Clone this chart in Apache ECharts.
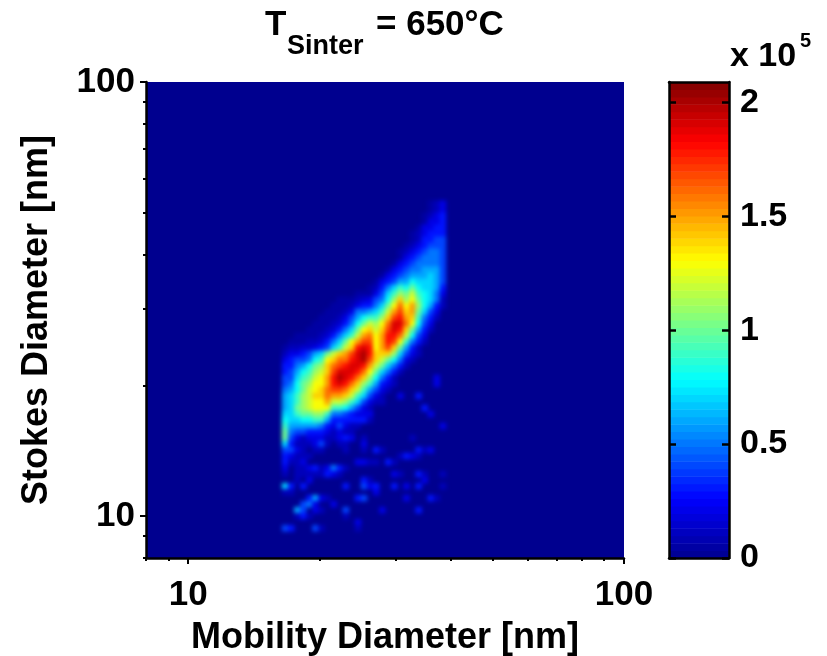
<!DOCTYPE html>
<html><head><meta charset="utf-8">
<style>html,body{margin:0;padding:0;background:#fff}#c{width:827px;height:656px;filter:blur(0.5px)}</style>
<script src="https://cdn.jsdelivr.net/npm/echarts@6/dist/echarts.min.js"></script>
</head><body><div id="c"></div>
<script>
const mobilityEdges=[16.40,16.93,17.49,18.06,18.65,19.25,19.88,20.53,21.20,21.89,22.60,23.34,24.10,24.88,25.69,26.53,27.40,28.29,29.21,30.16,31.14,32.16,33.21,34.29,35.41,36.56,37.75,38.98];
const stokesEdges=[9.23,9.53,9.84,10.16,10.49,10.83,11.18,11.54,11.91,12.30,12.70,13.11,13.54,13.98,14.43,14.90,15.38,15.88,16.39,16.92,17.47,18.04,18.62,19.23,19.85,20.49,21.16,21.84,22.55,23.28,24.04,24.82,25.62,26.45,27.31,28.19,29.11,30.05,31.02,32.03,33.07,34.14,35.25,36.39,37.57,38.79,40.04,41.34,42.68,44.06,45.49,46.97,48.49,50.06,51.68,53.36];
// counts in units of 10^4, rows from the largest Stokes diameter down
const density=[
[0,0,0,0,0,0,0,0,0,0,0,0,0,0,0,0,0,0,0,0,0,0,0,0,.5,1,2],
[0,0,0,0,0,0,0,0,0,0,0,0,0,0,0,0,0,0,0,0,0,0,0,0,.5,1,2],
[0,0,0,0,0,0,0,0,0,0,0,0,0,0,0,0,0,0,0,0,0,0,0,.5,1,2,3],
[0,0,0,0,0,0,0,0,0,0,0,0,0,0,0,0,0,0,0,0,0,0,0,.5,2,2,3],
[0,0,0,0,0,0,0,0,0,0,0,0,0,0,0,0,0,0,0,0,0,0,.5,2,2,3,3],
[0,0,0,0,0,0,0,0,0,0,0,0,0,0,0,0,0,0,0,0,0,.5,1,2,3,3,3],
[0,0,0,0,0,0,0,0,0,0,0,0,0,0,0,0,0,0,0,0,0,.5,1,3,3,4,4],
[0,0,0,0,0,0,0,0,0,0,0,0,0,0,0,0,0,0,0,0,.5,1,2,3,4,4,4],
[0,0,0,0,0,0,0,0,0,0,0,0,0,0,0,0,0,0,0,.5,1,2,3,4,5,5,4],
[0,0,0,0,0,0,0,0,0,0,0,0,0,0,0,0,0,0,0,.5,2,3,4,5,5,5,4],
[0,0,0,0,0,0,0,0,0,0,0,0,0,0,0,0,0,0,.5,2,3,4,5,5,5,5,4],
[0,0,0,0,0,0,0,0,0,0,0,0,0,0,0,0,0,.5,2,3,4,5,5,6,6,6,4],
[0,0,0,0,0,0,0,0,0,0,0,0,0,0,0,0,.5,2,3,4,5,6,6,6,7,6,4],
[0,0,0,0,0,0,0,0,0,0,0,0,0,0,0,.5,2,3,4,6,6,8,7,7,7,6,4],
[0,0,0,0,0,0,0,0,0,0,0,0,0,0,.5,1,3,5,7,9,8,10,8,7,7,6,3],
[0,0,0,0,0,0,0,0,0,0,0,0,.5,.5,.5,2,4,7,9,11,10,12,9,8,7,5,2],
[0,0,0,0,0,0,0,0,0,.5,.5,.5,1,1.5,2,4,5,8,11,14,11,13,10,8,7,5,1],
[0,0,0,0,0,0,0,0,.5,.5,.5,1,2,3,3,5,7,10,13,16,13,15,11,8,6,3,1],
[0,0,0,0,0,0,0,.5,.5,.5,1,2,5,5,6,7,9,12,15,17,14,15,10,7,4,2,0],
[0,0,0,0,0,0,.5,.5,.5,1,2,4,6,8,9,9,11,14,17,18,15,14,9,5,3,1,0],
[0,0,0,0,0,.5,.5,.5,1,1.5,3,5,8,10,12,11,13,16,19,19,16,13,8,4,2,0,0],
[0,0,0,0,.5,.5,.5,1,1.5,3,5,7,10,13,14,12,14,17,19,18,14,10,6,3,1,0,0],
[0,0,.5,.5,.5,.5,1,1.5,3,5,7,9,12,15,16,13,15,18,18,16,12,8,4,2,0,0,0],
[0,.5,.5,.5,1,1,1.5,3,5,7,10,13,15,17,17,13,15,18,17,13,9,5,3,1,0,0,0],
[.5,1,1,1.5,1.5,2,3,4,7,9,12,14,18,19,18,13,15,17,14,10,6,3,1,0,0,0,0],
[1,2,2,3,4,6,7,10,12,14,15,17,19,20,18,14,14,14,11,7,4,2,1,0,0,0,0],
[2,3,4,4,5,8,9,13,14,16,16,18,19,20,17,14,12,10,8,5,2,1,0,0,0,0,0],
[3,3,5,6,8,10,11,14,16,17,18,19,19,18,15,12,10,7,5,3,1,0,0,0,0,0,0],
[3,4,6,8,9,11,12,14,17,19,19,19,18,16,13,10,7,5,3,1,0,0,0,0,0,0,0],
[4,4,7,9,10,12,13,15,18,20,19,18,16,14,11,8,5,3,1,0,0,0,0,0,0,2,0],
[4,5,8,10,11,13,13,15,18,19,18,16,14,11,9,6,3,2,1,0,0,0,0,0,0,2,0],
[5,6,8,10,12,13,14,16,17,17,16,14,12,9,6,4,2,1,0,0,0,0,0,0,0,0,0],
[6,7,9,11,12,14,14,16,15,15,14,12,9,7,4,2,1,0,0,2,0,0,3,0,0,0,0],
[6,7,9,11,12,13,13,15,12,12,11,9,7,4,2,1,1,0,0,0,0,0,0,0,0,0,0],
[6,7,10,11,12,13,13,13,9,9,8,6,4,2,1,0,0,0,0,0,0,0,0,3,0,0,0],
[7,7,9,10,10,11,11,9,5,5,4,3,2,2,2,0,0,0,0,0,0,0,0,0,2,0,0],
[8,7,7,8,8,9,9,6,3,3,3,3,3,3,1,0,0,0,0,0,0,0,0,0,0,0,0],
[9,6,6,6,6,6,5,3,2,4,2,1,1,0,0,0,0,0,0,0,0,0,0,0,0,0,2],
[10,5,4,4,3,3,3,2,1,2,1,1,0,0,0,0,0,0,0,0,0,0,0,0,0,0,0],
[10,4,2,1,2,2,2,1,1,2,3,2,0,1,0,0,0,0,0,0,0,1,0,0,0,0,0],
[7,3,1,1,1,2,4,1,0,1,1,0,0,2,0,0,0,0,0,0,0,0,0,0,0,0,0],
[4,4,2,1,0,1,1,0,0,0,1,0,0,1,0,3,1,0,0,0,0,0,3,1,2,0,0],
[3,2,1,1,1,0,0,0,0,0,0,0,0,0,0,0,0,0,0,1,3,2,1,0,0,0,0],
[3,1,1,2,0,0,0,0,0,0,0,0,2,2,1,1,0,3,1,0,0,0,0,0,0,0,0],
[2,0,1,1,2,3,1,2,5,3,1,0,0,0,0,0,0,0,0,0,0,0,0,0,0,0,0],
[1,0,1,1,1,1,1,3,2,1,0,0,0,0,0,0,0,0,2,1,0,0,3,1,0,0,1],
[0,0,1,0,2,0,0,0,0,0,0,0,0,3,1,0,0,0,0,0,0,0,0,2,0,0,0],
[7,3,0,3,0,0,0,0,0,0,3,0,0,4,2,3,0,0,3,0,2,0,3,0,0,0,1],
[1,1,0,0,0,0,0,0,0,0,0,0,0,0,0,2,0,0,0,0,0,0,0,0,0,0,0],
[0,0,0,0,3,6,2,1,0,0,0,0,3,4,0,0,0,0,0,0,2,0,0,0,3,1,0],
[0,0,0,4,5,2,0,0,2,0,0,0,0,0,0,0,0,0,0,0,0,0,0,0,0,0,0],
[0,0,6,4,0,2,1,0,0,0,4,0,0,0,0,0,2,0,0,0,0,0,3,0,0,0,0],
[0,0,1,3,1,0,0,0,0,0,1,0,0,0,0,0,0,0,0,0,0,0,0,0,0,0,0],
[0,0,0,0,0,0,0,0,0,0,0,0,2,0,0,0,0,0,0,0,0,0,0,0,0,0,0],
[4,3,0,0,0,4,1,0,0,0,0,0,1,0,0,0,0,0,0,0,0,0,0,0,0,0,0]
];
const xMajorTicks=[10,100];
const xMinorTicks=[8,9,20,30,40,50,60,70,80,90];
const yMajorTicks=[10,100];
const yMinorTicks=[8,9,20,30,40,50,60,70,80,90];
const colorbarTicks=[0,0.5,1,1.5,2];
const colorbarMax=2.09;
const colorbarLevelCount=64;
const jet=['#00008F','#0000FF','#0080FF','#00FFFF','#80FF80','#FFFF00','#FF8000','#FF0000','#800000'];

const cells=[];
density.forEach((row,r)=>{
  const k=density.length-1-r;
  row.forEach((v,i)=>{ if(v>0) cells.push([mobilityEdges[i],mobilityEdges[i+1],stokesEdges[k],stokesEdges[k+1],v/10]); });
});
const bands=[];
for(let i=0;i<colorbarLevelCount;i++){
  const a=i/colorbarLevelCount*colorbarMax,b=(i+1)/colorbarLevelCount*colorbarMax;
  bands.push([a,b,(a+b)/2]);
}
const FF='"Liberation Sans",Arial,sans-serif';
const nameFont={fontFamily:FF,fontWeight:'bold',fontSize:36,color:'#000'};
const tickFont={fontFamily:FF,fontWeight:'bold',fontSize:35,color:'#000'};
const barFont={fontFamily:FF,fontWeight:'bold',fontSize:34,color:'#000'};
const line={show:true,onZero:false,lineStyle:{color:'#000',width:2.5}};
const chart=echarts.init(document.getElementById('c'),null,{renderer:'canvas'});
chart.setOption({
  animation:false,backgroundColor:'#fff',
  grid:[
    {left:146,top:82,width:478,height:476,show:true,backgroundColor:'#00008F',borderWidth:0,outerBoundsMode:'none'},
    {left:669,top:82,width:60,height:476,show:false,outerBoundsMode:'none'}
  ],
  xAxis:[
    {type:'log',gridIndex:0,min:8,max:100,position:'bottom',z:5,splitLine:{show:false},minorTick:{show:false},
     axisLine:line,axisTick:{show:true,length:6,inside:false,customValues:xMajorTicks,lineStyle:{color:'#000',width:2}},
     axisLabel:{show:true,...tickFont,margin:20,customValues:xMajorTicks,hideOverlap:false},
     name:'Mobility Diameter [nm]',nameLocation:'middle',nameGap:62,nameTextStyle:nameFont},
    {type:'log',gridIndex:0,min:8,max:100,position:'bottom',z:5,splitLine:{show:false},
     axisLine:{show:false},axisTick:{show:true,length:3,customValues:xMinorTicks,lineStyle:{color:'#000',width:2}},
     axisLabel:{show:false}},
    {type:'value',gridIndex:1,min:0,max:1,position:'bottom',zlevel:2,z:5,splitLine:{show:false},axisLine:line,axisTick:{show:false},axisLabel:{show:false}},
    {type:'value',gridIndex:1,min:0,max:1,position:'top',zlevel:2,z:5,splitLine:{show:false},axisLine:line,axisTick:{show:false},axisLabel:{show:false}}
  ],
  yAxis:[
    {type:'log',gridIndex:0,min:8,max:100,position:'left',z:5,splitLine:{show:false},minorTick:{show:false},
     axisLine:line,axisTick:{show:true,length:6,customValues:yMajorTicks,lineStyle:{color:'#000',width:2}},
     axisLabel:{show:true,...tickFont,margin:11,padding:[4,0,0,0],customValues:yMajorTicks,hideOverlap:false},
     name:'Stokes Diameter [nm]',nameLocation:'middle',nameGap:91,nameTextStyle:nameFont},
    {type:'log',gridIndex:0,min:8,max:100,position:'left',z:5,splitLine:{show:false},
     axisLine:{show:false},axisTick:{show:true,length:3,customValues:yMinorTicks,lineStyle:{color:'#000',width:2}},
     axisLabel:{show:false}},
    {type:'value',gridIndex:1,min:0,max:colorbarMax,position:'right',zlevel:2,z:5,splitLine:{show:false},axisLine:line,
     axisTick:{show:true,inside:true,length:7,customValues:colorbarTicks,lineStyle:{color:'#000',width:2.5}},
     axisLabel:{show:true,...barFont,margin:11,padding:[4,0,0,0],customValues:colorbarTicks,formatter:v=>String(v)}},
    {type:'value',gridIndex:1,min:0,max:colorbarMax,position:'left',zlevel:2,z:5,splitLine:{show:false},axisLine:line,
     axisTick:{show:true,inside:true,length:7,customValues:colorbarTicks,lineStyle:{color:'#000',width:2.5}},
     axisLabel:{show:false}}
  ],
  visualMap:[{show:false,type:'continuous',min:0,max:colorbarMax,dimension:4,seriesIndex:0,inRange:{color:jet}},
             {show:false,type:'continuous',min:0,max:colorbarMax,dimension:2,seriesIndex:1,inRange:{color:jet}}],
  series:[
    {type:'custom',xAxisIndex:0,yAxisIndex:0,clip:true,data:cells,silent:true,zlevel:1,
     encode:{x:[0,1],y:[2,3]},
     renderItem:(p,api)=>{
       const a=api.coord([api.value(0),api.value(2)]),b=api.coord([api.value(1),api.value(3)]);
       return {type:'rect',shape:{x:a[0],y:b[1],width:b[0]-a[0]+0.5,height:a[1]-b[1]+0.5},style:{fill:api.visual('color')}};
     }},
    {type:'custom',xAxisIndex:2,yAxisIndex:2,clip:true,data:bands,silent:true,
     encode:{y:[0,1]},
     renderItem:(p,api)=>{
       const a=api.coord([0,api.value(0)]),b=api.coord([1,api.value(1)]);
       return {type:'rect',shape:{x:a[0],y:b[1],width:b[0]-a[0],height:a[1]-b[1]+0.5},style:{fill:api.visual('color')}};
     }}
  ],
  graphic:[
    {type:'text',left:265,top:8,style:{text:'T',fontFamily:FF,fontWeight:'bold',fontSize:35,fill:'#000'}},
    {type:'text',left:287,top:33,style:{text:'Sinter',fontFamily:FF,fontWeight:'bold',fontSize:27,fill:'#000'}},
    {type:'text',left:376,top:8,style:{text:'= 650°C',fontFamily:FF,fontWeight:'bold',fontSize:35,fill:'#000'}},
    {type:'text',left:730,top:40,style:{text:'x 10',fontFamily:FF,fontWeight:'bold',fontSize:34,fill:'#000'}},
    {type:'text',left:800,top:31,style:{text:'5',fontFamily:FF,fontWeight:'bold',fontSize:20,fill:'#000'}}
  ]
});
chart.on('finished',applySoft); applySoft();
function applySoft(){
  document.querySelectorAll('#c canvas').forEach(cv=>{
    if(cv.getAttribute('data-zr-dom-id')==='zr_1') cv.style.filter='blur(2.2px)';
  });
}
</script></body></html>
